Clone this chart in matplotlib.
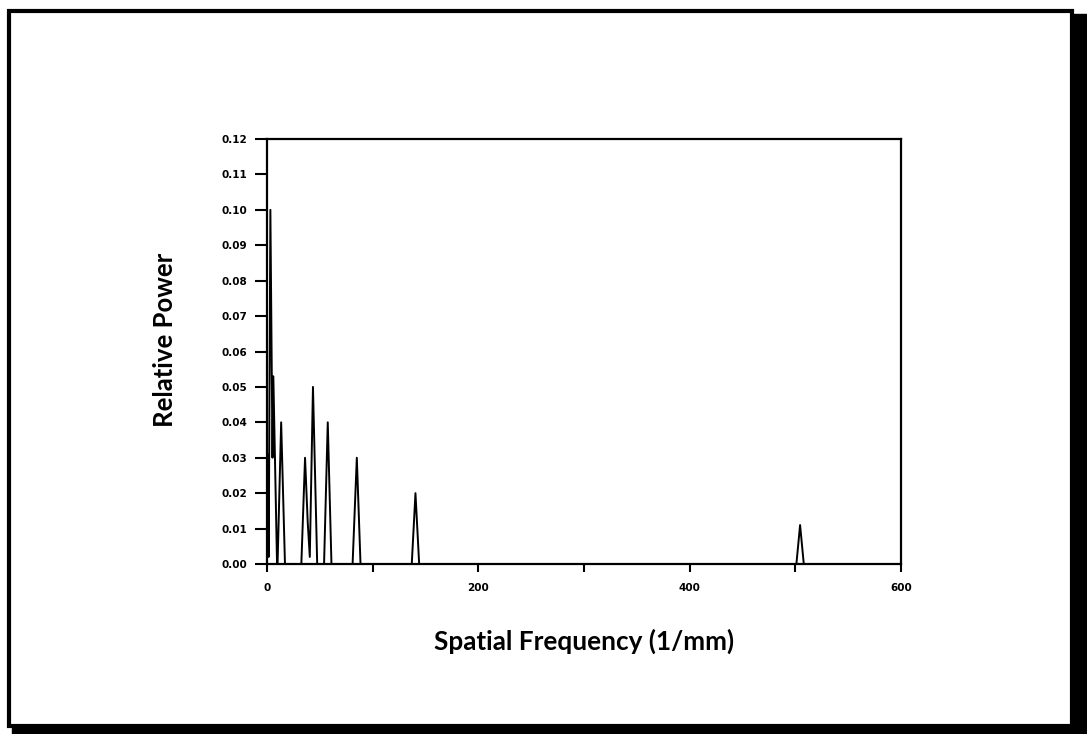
import matplotlib
matplotlib.use('Agg')
import matplotlib.pyplot as plt
from matplotlib.patches import Rectangle
from matplotlib.ticker import FixedLocator

# spectrum (each peak is a thin triangle)
freq = [0, 0.7, 1.6, 3.2, 5.2, 6.0, 9.5, 10.0, 13.4, 17.0,
        32.5, 36.0, 38.5, 40.5, 43.5, 47.5,
        54.0, 57.5, 61.0, 81.0, 85.0, 88.5,
        137.0, 140.5, 144.0, 501.0, 504.5, 508.0, 600]
power = [0, 0.031, 0.002, 0.100, 0.030, 0.053, 0.0, 0.0, 0.040, 0.0,
         0.0, 0.030, 0.012, 0.002, 0.050, 0.0,
         0.0, 0.040, 0.0, 0.0, 0.030, 0.0,
         0.0, 0.020, 0.0, 0.0, 0.011, 0.0, 0]

x_ticks = [0, 100, 200, 300, 400, 500, 600]
x_labels = ['0', '', '200', '', '400', '', '600']
y_ticks = [i / 100 for i in range(13)]
y_labels = ['%.2f' % v for v in y_ticks]

fig = plt.figure(figsize=(10.87, 7.34), dpi=100)

# page frame with a drop shadow on the right and bottom
fig.patches.append(Rectangle((9 / 1087, 8 / 734), 1063 / 1087, 715 / 734,
                             transform=fig.transFigure, fill=False,
                             edgecolor='black', linewidth=3))
fig.patches.append(Rectangle((1072 / 1087, 0), 15 / 1087, 720 / 734,
                             transform=fig.transFigure, color='black'))
fig.patches.append(Rectangle((12 / 1087, 0), 1075 / 1087, 8 / 734,
                             transform=fig.transFigure, color='black'))

ax = fig.add_axes([267 / 1087, 1 - 564 / 734, 634 / 1087, 425 / 734])
ax.plot(freq, power, color='black', linewidth=1.4)

ax.set_xlim(0, 600)
ax.set_ylim(0, 0.12)
ax.xaxis.set_major_locator(FixedLocator(x_ticks))
ax.set_xticklabels(x_labels)
ax.set_yticks(y_ticks)
ax.set_yticklabels(y_labels)

for s in ax.spines.values():
    s.set_linewidth(1.6)
ax.tick_params(axis='y', direction='out', length=9, width=1.5, pad=5)
ax.tick_params(axis='x', direction='out', length=6, width=1.5, pad=8)
for lab in ax.get_xticklabels() + ax.get_yticklabels():
    lab.set_fontsize(7.5)
    lab.set_fontweight('heavy')
    lab.set_family('DejaVu Sans')

ax.set_xlabel('Spatial Frequency (1/mm)', family='Lato', fontweight='bold',
              fontsize=18.8, labelpad=25)
ax.set_ylabel('Relative Power', family='Lato', fontweight='bold',
              fontsize=18.5)
ax.yaxis.set_label_coords(-0.142, 0.527)

fig.savefig('out.png', dpi=100)
